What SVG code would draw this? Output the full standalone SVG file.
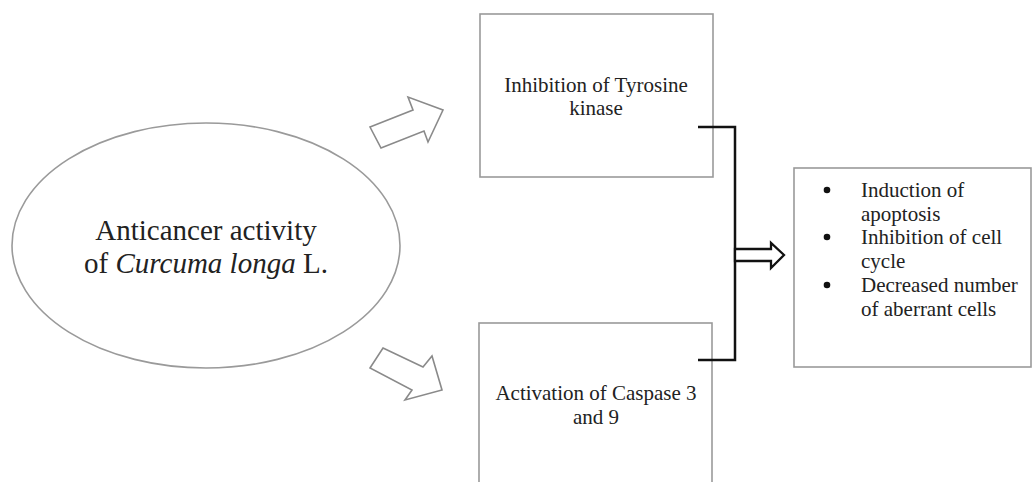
<svg xmlns="http://www.w3.org/2000/svg" width="1034" height="482" viewBox="0 0 1034 482">
<style>
.box{fill:#fff;stroke:#9a9a9a;stroke-width:1.6}
.blk{fill:none;stroke:#111;stroke-width:2.5}
.hollow{fill:#fff;stroke:#8a8a8a;stroke-width:1.6;stroke-linejoin:miter}
.tx{font-family:'Liberation Serif','DejaVu Serif',serif;fill:#222}
.t21{font-size:21px}
.t29{font-size:29px}
</style>
<rect width="1034" height="482" fill="#fff"/>
<g id="source">
<ellipse cx="206" cy="245.5" rx="194" ry="122.5" class="box"/>
<text class="tx t29" font-family="Liberation Serif, DejaVu Serif, serif" x="206" y="240" text-anchor="middle">Anticancer activity</text>
<text class="tx t29" font-family="Liberation Serif, DejaVu Serif, serif" x="206" y="273" text-anchor="middle">of <tspan font-style="italic">Curcuma longa</tspan> L.</text>
</g>
<g id="tyrosine">
<rect x="480" y="14" width="233" height="163" class="box"/>
<text class="tx t21" x="596" y="92" text-anchor="middle">Inhibition of Tyrosine</text>
<text class="tx t21" x="596" y="115" text-anchor="middle">kinase</text>
</g>
<g id="caspase">
<rect x="479" y="323" width="233" height="170" class="box"/>
<text class="tx t21" x="596" y="400" text-anchor="middle">Activation of Caspase 3</text>
<text class="tx t21" x="596" y="424" text-anchor="middle">and 9</text>
</g>
<g id="outcomes">
<rect x="794" y="168" width="237" height="199" class="box"/>
<g fill="#111">
<circle cx="827" cy="190" r="3.3"/>
<circle cx="827" cy="237" r="3.3"/>
<circle cx="827" cy="285" r="3.3"/>
</g>
<text class="tx t21" x="861" y="197">Induction of</text>
<text class="tx t21" x="861" y="220.5">apoptosis</text>
<text class="tx t21" x="861" y="244">Inhibition of cell</text>
<text class="tx t21" x="861" y="268">cycle</text>
<text class="tx t21" x="861" y="292">Decreased number</text>
<text class="tx t21" x="861" y="316">of aberrant cells</text>
</g>
<g id="connectors">
<polygon class="hollow" points="370,127 413,110 408,97 443,110 428,142 424,131 381,148"/>
<polygon class="hollow" points="383,348 423,367 432,356 442,390 405,400 412,390 370,368"/>
<polyline class="blk" points="698,127 735,127 735,360 698,360"/>
<polygon points="735,249 771,249 771,243 784,255 771,268 771,261 735,261" fill="#fff" stroke="#111" stroke-width="2.3" stroke-linejoin="miter"/>
</g>
</svg>
